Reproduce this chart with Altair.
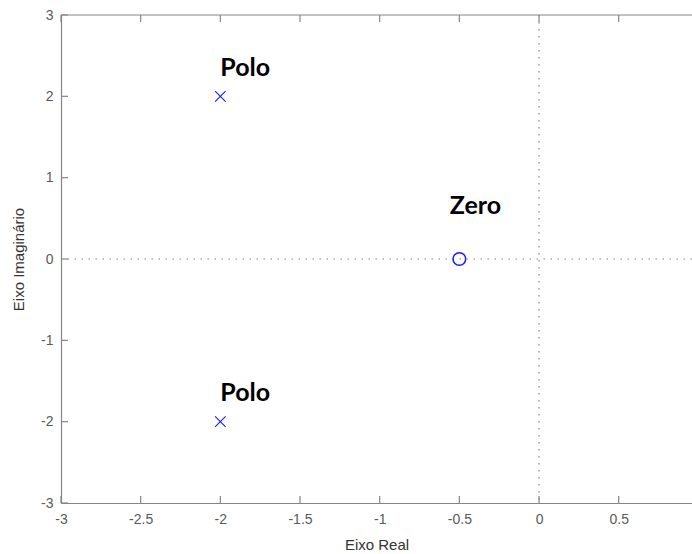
import altair as alt
import pandas as pd

# Poles and zeros of the transfer function (real, imaginary parts)
pole_re = [-2.0, -2.0]
pole_im = [2.0, -2.0]
zero_re = [-0.5]
zero_im = [0.0]

# Annotation texts and their anchor positions
label_text = ["Polo", "Polo", "Zero"]
label_re = [-2.0, -2.0, -0.56]
label_im = [2.25, -1.75, 0.55]

# Axis ticks
x_ticks = [-3, -2.5, -2, -1.5, -1, -0.5, 0, 0.5]
y_ticks = [-3, -2, -1, 0, 1, 2, 3]

W, H = 631, 488
TICK = 7
AXIS_GRAY = "#858585"
LABEL_GRAY = "#5a5a5a"
BLUE = "#1a1aff"

poles = pd.DataFrame({"re": pole_re, "im": pole_im})
zeros = pd.DataFrame({"re": zero_re, "im": zero_im})
labels = pd.DataFrame({"re": label_re, "im": label_im, "txt": label_text})
xt = pd.DataFrame({"v": x_ticks})
yt = pd.DataFrame({"v": y_ticks})

x_scale = alt.Scale(domain=[-3, 0.96], nice=False, zero=False)
y_scale = alt.Scale(domain=[-3, 3], nice=False, zero=False)

# Plain number labels with an ASCII hyphen as minus sign
plain_label = "'' + datum.value"

x_axis = alt.Axis(
    values=x_ticks, title="Eixo Real", grid=False, ticks=False, tickSize=0,
    domainColor=AXIS_GRAY, domainWidth=1.2, labelColor=LABEL_GRAY,
    labelFont="Liberation Sans", labelFontSize=14, labelPadding=9,
    labelExpr=plain_label,
    titleFont="Liberation Sans", titleFontSize=15, titleFontWeight="normal",
    titleColor="#333333", titleBaseline="middle", titleY=41,
    labelFlush=False,
)
y_axis = alt.Axis(
    values=y_ticks, title="Eixo Imaginário", grid=False, ticks=False, tickSize=0,
    domainColor=AXIS_GRAY, domainWidth=1.2, labelColor=LABEL_GRAY,
    labelFont="Liberation Sans", labelFontSize=14, labelPadding=8,
    labelExpr=plain_label,
    titleFont="Liberation Sans", titleFontSize=15, titleFontWeight="normal",
    titleColor="#333333", titleBaseline="middle", titleX=-43,
    labelFlush=False,
)

x_enc = alt.X("re:Q", scale=x_scale, axis=x_axis)
y_enc = alt.Y("im:Q", scale=y_scale, axis=y_axis)

# Dotted reference lines through the origin
vline = alt.Chart(pd.DataFrame({"re": [0]})).mark_rule(
    color=AXIS_GRAY, strokeDash=[1.5, 5.5], strokeWidth=1.2
).encode(x=alt.X("re:Q", scale=x_scale))
hline = alt.Chart(pd.DataFrame({"im": [0]})).mark_rule(
    color=AXIS_GRAY, strokeDash=[1.5, 5.5], strokeWidth=1.2
).encode(y=alt.Y("im:Q", scale=y_scale))

# Frame: top border plus inward ticks on bottom, top and left
top_border = alt.Chart(pd.DataFrame({"a": [0]})).mark_rule(
    color=AXIS_GRAY, strokeWidth=1.2
).encode(x=alt.value(0), x2=alt.value(W), y=alt.value(0))
bottom_ticks = alt.Chart(xt).mark_rule(color=AXIS_GRAY, strokeWidth=1.2).encode(
    x=alt.X("v:Q", scale=x_scale), y=alt.value(H), y2=alt.value(H - TICK)
)
top_ticks = alt.Chart(xt).mark_rule(color=AXIS_GRAY, strokeWidth=1.2).encode(
    x=alt.X("v:Q", scale=x_scale), y=alt.value(0), y2=alt.value(TICK)
)
left_ticks = alt.Chart(yt).mark_rule(color=AXIS_GRAY, strokeWidth=1.2).encode(
    y=alt.Y("v:Q", scale=y_scale), x=alt.value(0), x2=alt.value(TICK)
)

pole_marks = alt.Chart(poles).mark_point(
    shape="M-1,-1L1,1M-1,1L1,-1", filled=False, color=BLUE, strokeWidth=1.1,
    size=110, opacity=1,
).encode(x=x_enc, y=y_enc)

zero_marks = alt.Chart(zeros).mark_point(
    shape="circle", filled=False, color=BLUE, strokeWidth=1.5, size=160, opacity=1,
).encode(x=alt.X("re:Q", scale=x_scale), y=alt.Y("im:Q", scale=y_scale))

text_marks = alt.Chart(labels).mark_text(
    font="Lato", fontWeight="bold", fontSize=25, color="black",
    align="left", baseline="alphabetic",
).encode(
    x=alt.X("re:Q", scale=x_scale), y=alt.Y("im:Q", scale=y_scale), text="txt:N"
)

chart = alt.layer(
    vline, hline, top_border, bottom_ticks, top_ticks, left_ticks,
    pole_marks, zero_marks, text_marks,
).properties(
    width=W, height=H,
    autosize=alt.AutoSizeParams(type="none"),
    padding={"left": 61, "top": 15, "right": 0, "bottom": 51},
    background="white",
).configure_view(stroke=None)

chart.save("out.html", embed_options={"renderer": "svg", "actions": False})
